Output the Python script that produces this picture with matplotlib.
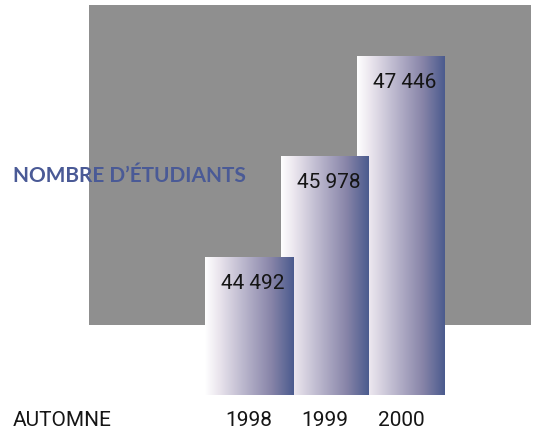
import numpy as np
import matplotlib.pyplot as plt
from matplotlib.colors import LinearSegmentedColormap
from matplotlib.patches import Rectangle
import matplotlib.transforms as mtransforms

# données
annees = ['1998', '1999', '2000']
etudiants = [44492, 45978, 47446]
etiquettes = ['44 492', '45 978', '47 446']
titre = 'NOMBRE D\u2019ÉTUDIANTS'
legende_x = 'AUTOMNE'

W, H = 534, 429
fig = plt.figure(figsize=(W / 100, H / 100), dpi=100)

# fond gris
fig.patches.append(Rectangle((89 / W, (H - 325) / H), (531 - 89) / W, 320 / H,
                             transform=fig.transFigure, facecolor='#8f8f8f',
                             edgecolor='none', zorder=0))

ax = fig.add_axes([0, 0, 1, 1])
ax.set_zorder(2)
ax.patch.set_alpha(0)
ax.axis('off')

# échelle : base 42458, ~14.7 étudiants par pixel
base = 42458
k = 14.7
ax.set_xlim(-249 / 76, (W - 249) / 76)
ax.set_ylim(base - (H - 395) * k, base + 395 * k)

cmap = LinearSegmentedColormap.from_list('degrade', [
    (0.0, '#ffffff'), (0.15, '#ebe6ee'), (0.45, '#b8b4cb'),
    (0.75, '#8784a8'), (1.0, '#4b5b8e')])
grad = np.linspace(0, 1, 256).reshape(1, -1)

police_num = ['Roboto', 'DejaVu Sans']
larg = 88 / 76
x = np.arange(len(annees))
barres = ax.bar(x, np.array(etudiants) - base, bottom=base, width=larg,
                color='none', edgecolor='none')
for i, b in enumerate(barres):
    z = 5 - i
    b.set_zorder(z)
    im = ax.imshow(grad, aspect='auto', cmap=cmap, zorder=z,
                   extent=(b.get_x(), b.get_x() + b.get_width(),
                           base, etudiants[i]))
    im.set_clip_path(b)
    ax.annotate(etiquettes[i], (x[i], etudiants[i]), xytext=(4, -27),
                textcoords='offset pixels', ha='center', va='center',
                fontsize=15, family=police_num, color='#151515', zorder=z)

trans = mtransforms.blended_transform_factory(ax.transData, fig.transFigure)
for i, a in enumerate(annees):
    ax.text(x[i], (H - 420) / H, a, transform=trans, ha='center', va='center',
            fontsize=15, family=police_num, color='#151515')
fig.text(13 / W, (H - 420) / H, legende_x, ha='left', va='center',
         fontsize=15, family=police_num, color='#151515')

fig.text(13 / W, (H - 176) / H, titre, ha='left', va='center', fontsize=15,
         family=['Lato', 'DejaVu Sans'], fontweight='bold', color='#4a5a96',
         zorder=10)

fig.savefig('out.png', dpi=100)
